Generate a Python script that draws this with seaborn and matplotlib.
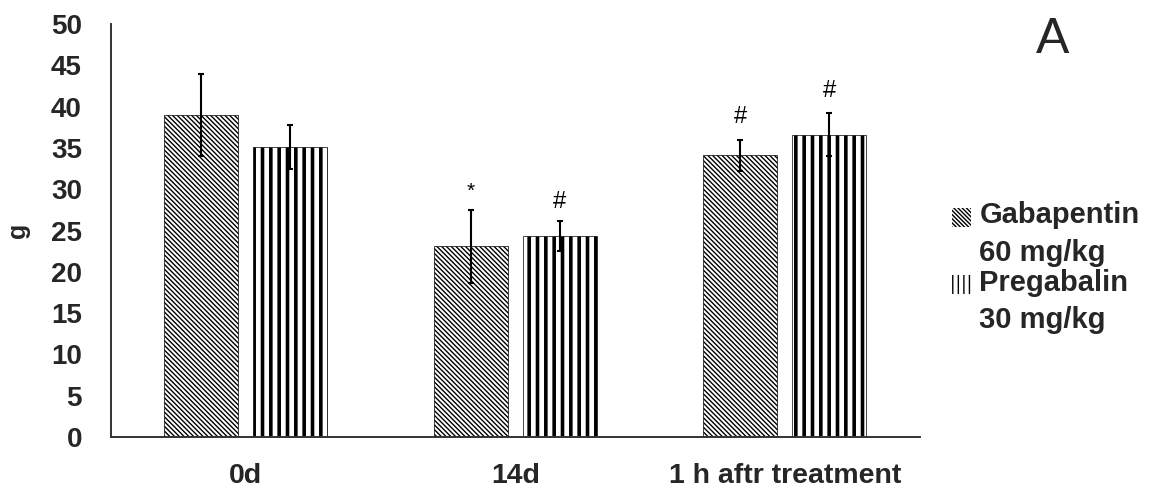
import matplotlib
matplotlib.use("Agg")
import matplotlib.pyplot as plt
import matplotlib.patches as mpatches
from matplotlib.legend_handler import HandlerPatch
import numpy as np
import pandas as pd
import seaborn as sns

# Mechanical withdrawal threshold (g), mean and SD per group
timepoints = ["0d", "14d", "1 h aftr treatment"]
treatments = ["Gabapentin\n60 mg/kg", "Pregabalin\n30 mg/kg"]
gabapentin_mean = [39.0, 23.1, 34.1]
gabapentin_sd = [5.0, 4.4, 1.9]
pregabalin_mean = [35.1, 24.3, 36.6]
pregabalin_sd = [2.7, 1.8, 2.6]
gabapentin_marks = ["", "*", "#"]
pregabalin_marks = ["", "#", "#"]

df = pd.DataFrame({
    "time": timepoints * 2,
    "treatment": [treatments[0]] * 3 + [treatments[1]] * 3,
    "g": gabapentin_mean + pregabalin_mean,
})

sns.set_style("white")
plt.rcParams["font.family"] = ["Liberation Sans", "DejaVu Sans"]

fig = plt.figure(figsize=(11.64, 4.9), dpi=100)
ax = fig.add_axes([0.0954, 0.108, 0.6946, 0.843])

sns.barplot(data=df, x="time", y="g", hue="treatment", order=timepoints,
            hue_order=treatments, errorbar=None, width=0.66, gap=0.17,
            palette=["white", "white"], legend=False, ax=ax)

hatches = ["\\" * 7, "||"]
hatch_lw = [1.0, 2.6]
means = [gabapentin_mean, pregabalin_mean]
sds = [gabapentin_sd, pregabalin_sd]
marks = [gabapentin_marks, pregabalin_marks]
mark_gap = [[0, 2.2, 2.8], [0, 2.3, 2.7]]


def style_patch(p, hatch, lw):
    p.set_facecolor("white")
    p.set_edgecolor("black")
    p.set_hatch(hatch)
    if hasattr(p, "set_hatch_linewidth"):
        p.set_hatch_linewidth(lw)
    else:
        p._hatch_linewidth = lw


bar_groups = list(ax.containers)
for k, cont in enumerate(bar_groups):
    xs = []
    for p in cont.patches:
        style_patch(p, hatches[k], hatch_lw[k])
        p.set_linewidth(0.5)
        xs.append(p.get_x() + p.get_width() / 2)
    xs = np.array(xs)
    ax.errorbar(xs, means[k], yerr=sds[k], fmt="none", ecolor="black",
                elinewidth=1.5, capsize=2.5, capthick=1.5, zorder=5)
    for x, m, s, t, gp in zip(xs, means[k], sds[k], marks[k], mark_gap[k]):
        if t:
            size = 15 if t == "*" else 17
            ax.text(x, m + s + gp, t, ha="center", va="center",
                    fontsize=size, color="black")

ax.set_ylim(0, 50)
ax.set_xlim(-0.5, 2.5)
ax.set_yticks(range(0, 51, 5))
ax.set_xlabel("")
ax.set_ylabel("g", fontsize=18, fontweight="bold", labelpad=15)

for side in ["top", "right"]:
    ax.spines[side].set_visible(False)
for side in ["left", "bottom"]:
    ax.spines[side].set_color("#333333")
    ax.spines[side].set_linewidth(1.4)

ax.tick_params(axis="y", length=0, pad=21, labelsize=20)
ax.tick_params(axis="x", which="major", length=0, pad=19, labelsize=20.5)
ax.set_xticks([-0.5, 0.5, 1.5, 2.5], minor=True)
ax.tick_params(axis="x", which="minor", length=6, width=1.2, direction="out",
               color="#555555")
for lab in ax.get_xticklabels() + ax.get_yticklabels():
    lab.set_fontweight("bold")


def first_line_square(legend, orig_handle, xdescent, ydescent, width, height,
                      fontsize):
    # place the swatch beside the first line of a two-line label
    return mpatches.Rectangle((-xdescent, -ydescent + 0.6 * fontsize),
                              width, height)


handles = []
for h, lw, lbl in zip(["\\" * 8, "|||"], [0.8, 1.2], treatments):
    hp = mpatches.Patch(label=lbl, linewidth=0)
    style_patch(hp, h, lw)
    handles.append(hp)
leg = fig.legend(handles=handles, loc="upper left",
                 bbox_to_anchor=(0.808, 0.613), frameon=False,
                 prop={"family": "Liberation Sans", "weight": "bold", "size": 21},
                 handlelength=0.65, handleheight=0.6, handletextpad=0.28,
                 labelspacing=0.07, borderaxespad=0,
                 handler_map={mpatches.Patch: HandlerPatch(patch_func=first_line_square)})
for t in leg.get_texts():
    t.set_linespacing(1.43)

fig.text(0.904, 0.918, "A", fontsize=36, ha="center", va="center")

fig.savefig("out.png", dpi=100)
